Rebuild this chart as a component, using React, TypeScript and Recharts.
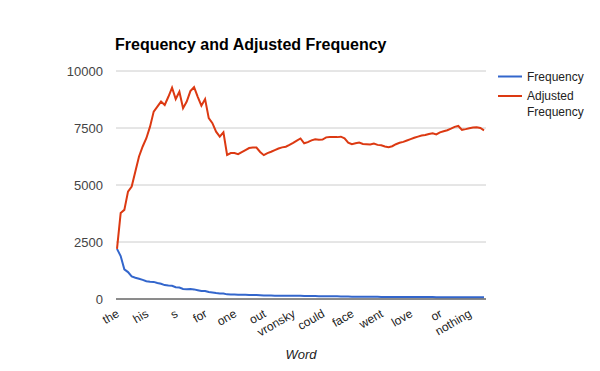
import { LineChart, Line, XAxis, YAxis, CartesianGrid, Legend } from 'recharts'

const words = [
  'the', 'and', 'to', 'of', 'he', 'a', 'in', 'that', 'his', 'was',
  'her', 'it', 'with', 'she', 'i', 'had', 's', 'not', 'you', 'him',
  'at', 'as', 'but', 'on', 'for', 'be', 'all', 'said', 'levin', 'what',
  'is', 'so', 'one', 'were', 'by', 'this', 't', 'have', 'there', 'from',
  'out', 'they', 'no', 'would', 'me', 'now', 'an', 'which', 'vronsky', 'been',
  'only', 'up', 'anna', 'do', 'my', 'when', 'could', 'into', 'them', 'know',
  'if', 'did', 'how', 'more', 'face', 'very', 'then', 'oblonsky', 'about', 'who',
  'kitty', 'your', 'went', 'we', 'time', 'like', 'something', 'well', 'has', 'without',
  'love', 'are', 'eyes', 'any', 'again', 'alexey', 'alexandrovitch', 'come', 'or', 'can',
  'see', 'still', 'because', 'himself', 'felt', 'man', 'nothing', 'will', 'other', 'thought',
  'say',
]

const frequency = [
  2200, 1885, 1300, 1180, 990, 930, 890, 840, 780, 756,
  750, 700, 666, 610, 590, 580, 515, 505, 440, 433,
  434, 422, 386, 353, 351, 305, 286, 262, 245, 244,
  204, 200, 194, 187, 184, 181, 179, 175, 170, 161,
  154, 152, 150, 148, 147, 145, 142, 141, 140, 139,
  138, 131, 130, 129, 127, 125, 123, 122, 121, 118,
  116, 115, 112, 107, 104, 103, 102, 100, 98, 97,
  96, 94, 92, 90, 89, 88, 88, 88, 87, 87,
  87, 86, 86, 85, 85, 84, 84, 82, 82, 82,
  81, 81, 81, 81, 78, 78, 77, 77, 76, 75,
  73,
]

const adjustedFrequency = [
  2200, 3770, 3910, 4710, 4930, 5590, 6250, 6690, 7050, 7560,
  8220, 8440, 8660, 8510, 8870, 9270, 8770, 9090, 8370, 8660,
  9120, 9290, 8870, 8480, 8770, 7930, 7710, 7340, 7120, 7310,
  6320, 6400, 6400, 6350, 6440, 6530, 6620, 6640, 6640, 6450,
  6310, 6400, 6460, 6530, 6600, 6650, 6680, 6760, 6850, 6950,
  7040, 6830, 6880, 6960, 7010, 6980, 6990, 7090, 7110, 7100,
  7100, 7120, 7050, 6860, 6790, 6830, 6860, 6800, 6790, 6780,
  6820, 6760, 6740, 6690, 6660, 6700, 6790, 6850, 6890, 6950,
  7010, 7070, 7120, 7170, 7190, 7240, 7270, 7220, 7310, 7360,
  7400, 7470, 7550, 7590, 7420, 7450, 7490, 7520, 7530, 7500,
  7400,
]

const yTicks = [0, 2500, 5000, 7500, 10000]

const data = words.map((word, i) => ({
  word,
  frequency: frequency[i],
  adjusted: adjustedFrequency[i],
}))

const FONT = '"Liberation Sans", Arial, sans-serif'
const BLUE = '#3366cc'
const RED = '#dc3912'

function WordTick({ x, y, payload }: any) {
  const tx = x + 3
  const ty = y + 9
  return (
    <text
      x={tx}
      y={ty}
      transform={`rotate(-30 ${tx} ${ty})`}
      textAnchor="end"
      fontSize={12}
      fontFamily={FONT}
      fill="#222"
    >
      {payload.value}
    </text>
  )
}

function SeriesLegend() {
  return (
    <svg width={110} height={70} style={{ display: 'block' }}>
      <line x1={8} x2={32} y1={16.5} y2={16.5} stroke={BLUE} strokeWidth={2} />
      <text x={37} y={20.7} fontSize={12} fontFamily={FONT} fill="#222">Frequency</text>
      <line x1={8} x2={32} y1={36} y2={36} stroke={RED} strokeWidth={2} />
      <text x={37} y={39.5} fontSize={12} fontFamily={FONT} fill="#222">Adjusted</text>
      <text x={37} y={56} fontSize={12} fontFamily={FONT} fill="#222">Frequency</text>
    </svg>
  )
}

export default function App() {
  return (
    <div style={{ position: 'absolute', left: 0, top: 0, width: 600, height: 371, background: '#fff' }}>
      <div
        style={{
          position: 'absolute',
          left: 115,
          top: 37,
          fontFamily: FONT,
          fontWeight: 'bold',
          fontSize: 16,
          lineHeight: '16px',
          color: '#000',
          whiteSpace: 'nowrap',
        }}
      >
        Frequency and Adjusted Frequency
      </div>
      <LineChart width={600} height={371} data={data} margin={{ top: 71, right: 114, bottom: 12, left: 0 }}>
        <CartesianGrid vertical={false} stroke="#cccccc" />
        <XAxis
          dataKey="word"
          interval={7}
          height={60}
          tickLine={false}
          axisLine={{ stroke: '#333' }}
          tick={<WordTick />}
          padding={{ left: 1, right: 2 }}
        />
        <YAxis
          width={116}
          domain={[0, 10000]}
          ticks={yTicks}
          axisLine={false}
          tickLine={false}
          tickMargin={7}
          tick={{ fill: '#444', fontSize: 13, fontFamily: FONT }}
        />
        <Legend
          layout="horizontal"
          align="center"
          verticalAlign="middle"
          content={() => <SeriesLegend />}
          wrapperStyle={{ left: 490, top: 60, width: 110, height: 70 }}
        />
        <Line
          type="linear"
          dataKey="frequency"
          name="Frequency"
          stroke={BLUE}
          strokeWidth={2}
          dot={false}
          isAnimationActive={false}
        />
        <Line
          type="linear"
          dataKey="adjusted"
          name="Adjusted Frequency"
          stroke={RED}
          strokeWidth={2}
          dot={false}
          isAnimationActive={false}
        />
      </LineChart>
      <div
        style={{
          position: 'absolute',
          left: 0,
          width: 602,
          top: 347,
          textAlign: 'center',
          fontFamily: FONT,
          fontStyle: 'italic',
          fontSize: 13,
          lineHeight: '15px',
          color: '#222',
        }}
      >
        Word
      </div>
    </div>
  )
}
